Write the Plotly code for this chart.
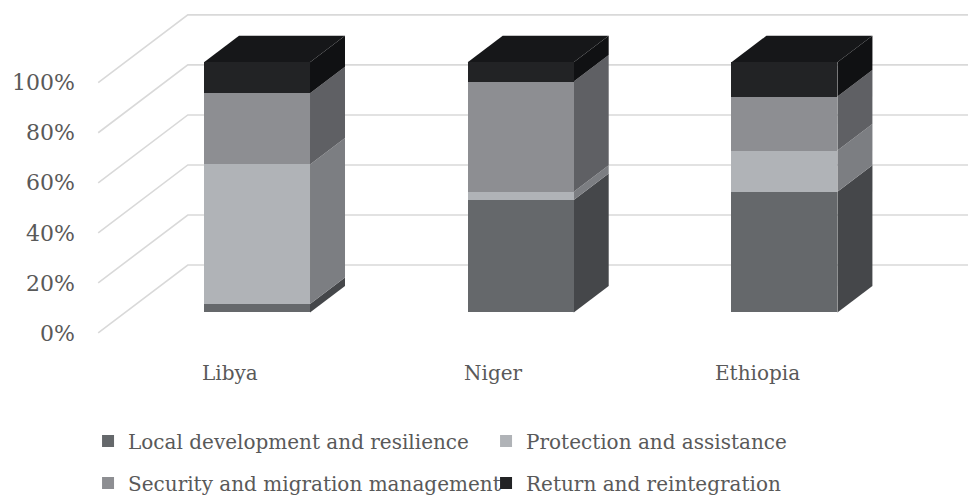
import plotly.graph_objects as go

# ---------------- data ----------------
categories = ["Libya", "Niger", "Ethiopia"]
series_names = [
    "Local development and resilience",
    "Protection and assistance",
    "Security and migration management",
    "Return and reintegration",
]
local_dev = [3.4, 45.0, 48.3]
protection = [55.8, 3.3, 16.4]
security = [28.4, 44.0, 21.6]
return_reint = [12.4, 7.7, 13.7]
y_tick_values = [0, 20, 40, 60, 80, 100]

# ---------------- style ----------------
FONT = "DejaVu Serif"
TEXT_COLOR = "#595959"
GRID_COLOR = "#d9d9d9"
front_colors = ["#65686b", "#b0b3b7", "#8d8e92", "#222325"]
side_colors = ["#45474a", "#7c7e82", "#5f6064", "#101113"]
top_color = "#161719"
legend_ids = ["legend", "legend", "legend2", "legend2"]

BAR_W = 0.402            # bar width in category units
DX = 35 / 263.7          # depth offset (x) in category units
DY = 26.5 / 2.502        # depth offset (y) in value units
WALL_LEFT = -0.5
WALL_FRONT = -0.77
WALL_BACK = 1.79
X_RANGE = [-0.6864, 2.6962]
Y_RANGE = [-18.19, 124.9]

series = [local_dev, protection, security, return_reint]
xs = list(range(len(categories)))

fig = go.Figure()
for name, vals, fc, lg in zip(series_names, series, front_colors, legend_ids):
    fig.add_trace(go.Bar(
        x=xs, y=vals, name=name, width=BAR_W,
        marker=dict(color=fc, line=dict(width=0)),
        legend=lg, hoverinfo="skip",
    ))

shapes = []
# back/left wall gridlines
for v in y_tick_values:
    x0, y0 = WALL_LEFT + WALL_FRONT * DX, v + WALL_FRONT * DY
    x1, y1 = WALL_LEFT + WALL_BACK * DX, v + WALL_BACK * DY
    x2 = X_RANGE[1]
    shapes.append(dict(
        type="path", xref="x", yref="y", layer="below",
        path=f"M {x0},{y0} L {x1},{y1} L {x2},{y1}",
        line=dict(color=GRID_COLOR, width=1.6),
    ))

# side and top faces of the 3D bars
for i in xs:
    base = 0.0
    xr = i + BAR_W / 2
    xl = i - BAR_W / 2
    for s, vals in enumerate(series):
        v0, v1 = base, base + vals[i]
        shapes.append(dict(
            type="path", xref="x", yref="y", layer="below",
            path=(f"M {xr},{v0} L {xr + DX},{v0 + DY} L {xr + DX},{v1 + DY} "
                  f"L {xr},{v1} Z"),
            fillcolor=side_colors[s], line=dict(width=0),
        ))
        base = v1
    shapes.append(dict(
        type="path", xref="x", yref="y", layer="below",
        path=(f"M {xl},{base} L {xr},{base} L {xr + DX},{base + DY} "
              f"L {xl + DX},{base + DY} Z"),
        fillcolor=top_color, line=dict(width=0),
    ))

annotations = []
for i, c in zip(xs, categories):
    annotations.append(dict(
        x=i + WALL_FRONT * DX, y=WALL_FRONT * DY, xref="x", yref="y",
        text=c, showarrow=False, yshift=-40, yanchor="middle",
        font=dict(family=FONT, size=20, color=TEXT_COLOR),
    ))

fig.update_layout(
    width=968, height=495,
    margin=dict(l=76, r=0, t=0, b=137, autoexpand=False),
    paper_bgcolor="white", plot_bgcolor="white",
    barmode="stack",
    shapes=shapes, annotations=annotations,
    xaxis=dict(range=X_RANGE, showgrid=False, zeroline=False,
               showticklabels=False, showline=False, fixedrange=True,
               automargin=False),
    yaxis=dict(range=Y_RANGE, showgrid=False, zeroline=False, showline=False,
               tickmode="array",
               tickvals=[v + WALL_FRONT * DY for v in y_tick_values],
               ticktext=[f"{v}%" for v in y_tick_values],
               tickfont=dict(family=FONT, size=22, color=TEXT_COLOR),
               fixedrange=True, automargin=False),
    legend=dict(orientation="h", x=0.0135, xanchor="left", y=-0.232,
                yanchor="middle", entrywidth=353, traceorder="normal",
                font=dict(family=FONT, size=20, color=TEXT_COLOR),
                bgcolor="rgba(0,0,0,0)"),
    legend2=dict(orientation="h", x=0.0135, xanchor="left", y=-0.349,
                 yanchor="middle", entrywidth=353, traceorder="normal",
                 font=dict(family=FONT, size=20, color=TEXT_COLOR),
                 bgcolor="rgba(0,0,0,0)"),
    showlegend=True,
)

fig.write_html(
    "out.html",
    config={"displayModeBar": False},
    post_script="document.body.style.margin='0';document.documentElement.style.overflow='hidden';",
)
